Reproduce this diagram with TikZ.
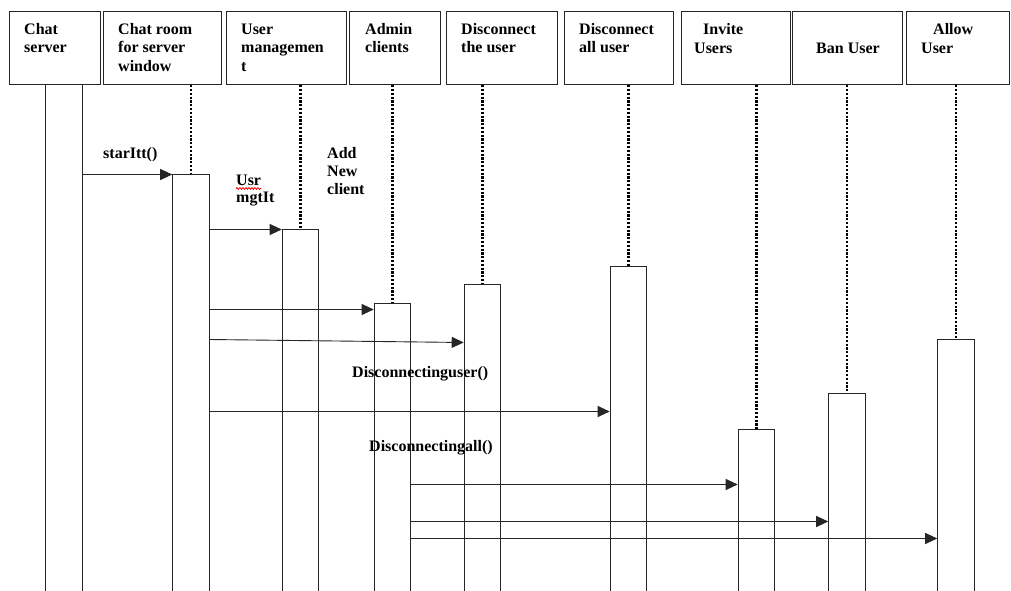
\documentclass[tikz,border=0pt]{standalone}
\usepackage{fontspec}
\setmainfont{Liberation Serif}
\usetikzlibrary{arrows.meta,decorations.pathmorphing}
\begin{document}
\begin{tikzpicture}[x=1pt,y=-1pt,
  head/.style={draw=black!85,line width=1.2pt,anchor=north west,inner sep=0pt,minimum height=73},
  bar/.style={draw=black!85,line width=1.1pt,fill=white,anchor=north,inner sep=0pt,minimum width=36.5,minimum height=600},
  life/.style={line width=2.6pt,dash pattern=on 2.2pt off 1.6pt},
  msg/.style={draw=black!85,line width=0.9pt,-{Triangle[length=12pt,width=11pt]}},
  txt/.style={anchor=base west,inner sep=0pt,font=\bfseries\fontsize{16}{19}\selectfont}]
\useasboundingbox (0,0) rectangle (1011,591);
\clip (0,0) rectangle (1011,591);
\fill[white] (0,0) rectangle (1011,591);

% participant boxes
\node[head,minimum width=91]  (h1) at (9,11)   {};
\node[head,minimum width=118] (h2) at (103,11) {};
\node[head,minimum width=120] (h3) at (226,11) {};
\node[head,minimum width=91]  (h4) at (349,11) {};
\node[head,minimum width=111] (h5) at (446,11) {};
\node[head,minimum width=109] (h6) at (564,11) {};
\node[head,minimum width=109] (h7) at (681,11) {};
\node[head,minimum width=110] (h8) at (792,11) {};
\node[head,minimum width=103] (h9) at (906,11) {};

% participant names
\node[txt] at (24,35)  {Chat};
\node[txt] at (24,53)  {server};
\node[txt] at (118,35) {Chat room};
\node[txt] at (118,53) {for server};
\node[txt] at (118,72) {window};
\node[txt] at (241,35) {User};
\node[txt] at (241,53) {managemen};
\node[txt] at (241,72) {t};
\node[txt] at (365,35) {Admin};
\node[txt] at (365,53) {clients};
\node[txt] at (461,35) {Disconnect};
\node[txt] at (461,53) {the user};
\node[txt] at (579,35) {Disconnect};
\node[txt] at (579,53) {all user};
\node[txt] at (703,35) {Invite};
\node[txt] at (694,54) {Users};
\node[txt] at (816,54) {Ban User};
\node[txt] at (933,35) {Allow};
\node[txt] at (921,54) {User};

% activation bars
\node[bar] (b1) at (64,84)     {};
\node[bar] (b2) at (191,174)   {};
\node[bar] (b3) at (300.5,229) {};
\node[bar] (b4) at (392.5,303) {};
\node[bar] (b5) at (482.5,284) {};
\node[bar] (b6) at (628.5,266) {};
\node[bar] (b7) at (756.5,429) {};
\node[bar] (b8) at (847,393)   {};
\node[bar] (b9) at (956,339)   {};

% dotted lifelines
\foreach \i in {2,...,9} \draw[life] (h\i.south -| b\i.north) -- (b\i.north);

% messages
\draw[msg] (b1.east |- 0,174.5) -- (b2.west |- 0,174.5);
\draw[msg] (b2.east |- 0,229.5) -- (b3.west |- 0,229.5);
\draw[msg] (b2.east |- 0,309.5) -- (b4.west |- 0,309.5);
\draw[msg] (b2.east |- 0,339.5) -- (b5.west |- 0,342.5);
\draw[msg] (b2.east |- 0,411.5) -- (b6.west |- 0,411.5);
\draw[msg] (b4.east |- 0,484.5) -- (b7.west |- 0,484.5);
\draw[msg] (b4.east |- 0,521.5) -- (b8.west |- 0,521.5);
\draw[msg] (b4.east |- 0,538.5) -- (b9.west |- 0,538.5);

% message labels
\node[txt] at (103,158) {starItt()};
\node[txt] (usr) at (236,185) {Usr};
\draw[red,line width=0.8pt,decorate,decoration={snake,amplitude=0.9pt,segment length=3pt}]
  ([yshift=-3.5pt]usr.base west) -- ([yshift=-3.5pt]usr.base east);
\node[txt] at (236,202) {mgtIt};
\node[txt] at (327,158) {Add};
\node[txt] at (327,176) {New};
\node[txt] at (327,194) {client};
\node[txt] at (352,377) {Disconnectinguser()};
\node[txt] at (369,451) {Disconnectingall()};
\end{tikzpicture}
\end{document}
